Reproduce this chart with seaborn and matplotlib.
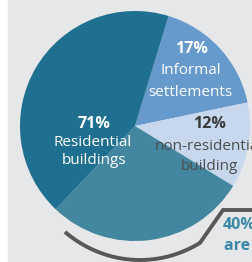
# pie chart of building stock shares
import numpy as np
import matplotlib
matplotlib.use("Agg")
import matplotlib.pyplot as plt
import seaborn as sns

# data
categories = ["Informal settlements", "non-residential building",
              "Residential (informal part)", "Residential (formal part)"]
shares = [17, 12, 28.4, 42.6]
colors = ["#6699cc", "#c6d7ee", "#42879f", "#1f7090"]

residential_share = 71
informal_share = 17
nonres_share = 12
informal_of_residential = 40

sns.set_theme(style="white")
plt.rcParams["font.family"] = ["Open Sans", "DejaVu Sans"]

W, H = 252, 262
fig = plt.figure(figsize=(W / 100, H / 100), dpi=100)
fig.patch.set_facecolor("white")
ax = fig.add_axes([0, 0, 1, 1])
ax.set_facecolor("#e6e7e8")

# left white strip of the cropped page
ax.add_patch(plt.Rectangle((0, 0), 8, H, color="white", zorder=0))
ax.add_patch(plt.Rectangle((8, 0), W - 8, H, color="#e6e7e8", zorder=0))

cx, cy, R = 135, H - 126, 115
ax.pie(shares, colors=colors, startangle=73, counterclock=False,
       center=(cx, cy), radius=R, wedgeprops=dict(linewidth=0))

# bracket arc under the informal residential part
t = np.radians(np.linspace(232.4, 299.2, 80))
ex, ey = 140, H - 125
arc_x = list(ex + 123 * np.cos(t)) + [223, W + 2]
arc_y = list(ey + 135 * np.sin(t)) + [H - 210, H - 210]
ax.plot(arc_x, arc_y, color="#58585a", lw=2.8, solid_capstyle="butt",
        solid_joinstyle="miter", zorder=3)

fs = 11
fsb = 11.5
white = "white"
ax.text(191, H - 49, f"{informal_share}%", color=white, fontsize=fsb,
        fontweight="bold", ha="center", va="center")
ax.text(191, H - 70, "Informal", color=white, fontsize=fs, ha="center", va="center")
ax.text(190, H - 92, "settlements", color=white, fontsize=fs, ha="center", va="center")

ax.text(209, H - 124, f"{nonres_share}%", color="#3a3a3a", fontsize=fsb,
        fontweight="bold", ha="center", va="center")
ax.text(209, H - 146, "non-residential", color="#4d4d4d", fontsize=fs,
        ha="center", va="center")
ax.text(209, H - 166, "building", color="#4d4d4d", fontsize=fs,
        ha="center", va="center")

ax.text(94, H - 124, f"{residential_share}%", color=white, fontsize=fsb,
        fontweight="bold", ha="center", va="center")
ax.text(93, H - 143, "Residential", color=white, fontsize=fs, ha="center", va="center")
ax.text(94, H - 161, "buildings", color=white, fontsize=fs, ha="center", va="center")

ax.text(223, H - 225, f"{informal_of_residential}%", color="#3a87a8", fontsize=fsb,
        fontweight="bold", ha="left", va="center")
ax.text(224, H - 246, "are in", color="#3a87a8", fontsize=fsb,
        fontweight="bold", ha="left", va="center")

ax.set_xlim(0, W)
ax.set_ylim(0, H)
ax.set_aspect("auto")
ax.axis("off")

fig.savefig("out.png", dpi=100, facecolor=fig.get_facecolor())
